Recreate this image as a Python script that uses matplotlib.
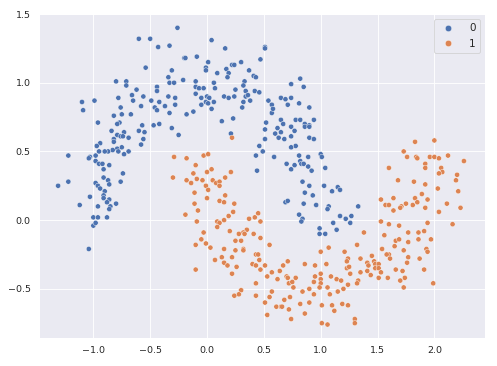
import pandas as pd
import seaborn as sns
import matplotlib.pyplot as plt

# class 0 (upper moon)
x0 = [-0.26, -0.60, -0.50, -0.43, -0.33, -0.20, -0.54, -0.31, -0.34, -0.33, -0.29, -0.21, -0.80, -0.71,
      -0.71, -0.62, -0.44, -0.44, -0.78, -0.66, -0.56, -0.34, -0.28, -1.10, -0.99, -0.65, -0.49, -0.42,
      -1.09, -0.76, -0.58, -0.46, -0.44, -0.37, -0.28, -0.33, -0.82, -0.75, -0.67, -0.96, -0.77, -0.79,
      -0.57, -0.47, -0.42,
      0.04, 0.16, 0.51, 0.51, -0.19, -0.09, 0.01, 0.22, 0.24, 0.30, 0.47, -0.01, -0.01, 0.17, 0.19, 0.09,
      0.37, 0.41, 0.43, 0.18, -0.10, -0.10, -0.07, -0.03, 0.06, 0.07, 0.33, 0.32, 0.25, 0.34, 0.42, 0.46,
      -0.10, -0.05, 0.00, 0.02, 0.15, 0.19, 0.24, 0.34, 0.36, -0.01, 0.01, 0.06, -0.05, 0.32, 0.38, 0.31,
      0.04, -0.12, -0.18, 0.13, 0.23, 0.52, 0.54, 0.57, 0.57, 0.58, 0.65, 0.69, 0.74, 0.71, 0.81, 0.90,
      0.74, 0.82, 0.85, 0.65, 0.67, 0.78, 0.82, 0.86, 0.94, 0.90,
      -0.31, -0.84, -0.73, -0.60, -0.55, -0.25, -0.79, -0.76, -0.74, -0.69, -0.82, -0.82, -0.56, -0.94,
      -0.97, -0.58, -0.75, -0.79, -0.83, -0.87, -0.90, -0.95, -0.78, -0.69, -0.73, -1.22, -1.03, -1.04,
      -0.98, -0.98, -0.95, -0.92, -0.91, -0.86, -0.74, -0.91, -0.87, -0.86, -0.76, -1.22, -1.31, -0.98,
      -0.96, -0.94, -0.90, -0.91, -1.03, -0.91, -0.86, -0.88, -0.80, -1.12, -0.96, -0.85, -0.86, -1.00,
      -0.96, -0.88, -1.00, -0.98, -1.04,
      0.21, 0.51, 0.60, 0.62, 0.65, 0.63, 0.68, 0.74, 0.77, 0.74, 0.86, 0.90, 0.90, 0.94, 0.51, 0.46,
      0.78, 0.74, 0.49, 0.43, 0.59, 0.81, 0.89, 1.00, 1.01, 0.82, 0.70, 0.77, 0.83, 0.85, 0.89, 0.92,
      0.74, 1.04, 0.44, 0.84, 0.90, 1.03, 1.10, 0.86, 0.93, 0.69, 0.71, 0.85, 0.96, 1.07, 1.06, 0.81,
      0.84, 0.83, 1.11, 0.99, 0.99, 1.04,
      1.15, 1.17, 1.33, 1.17, 1.22, 1.27, 1.26, 1.14]
y0 = [1.40, 1.32, 1.32, 1.26, 1.27, 1.18, 1.11, 1.09, 1.04, 1.00, 1.00, 1.02, 1.01, 1.01,
      0.98, 0.95, 0.97, 0.94, 0.89, 0.91, 0.90, 0.90, 0.89, 0.86, 0.87, 0.87, 0.87, 0.86,
      0.80, 0.82, 0.83, 0.82, 0.80, 0.83, 0.84, 0.78, 0.76, 0.77, 0.77, 0.71, 0.71, 0.70,
      0.69, 0.69, 0.70,
      1.31, 1.25, 1.26, 1.25, 1.18, 1.19, 1.15, 1.13, 1.13, 1.15, 1.17, 1.11, 1.09, 1.10, 1.07, 1.07,
      1.09, 1.05, 1.04, 1.04, 1.01, 0.97, 0.96, 0.96, 1.00, 0.96, 1.01, 0.98, 0.95, 0.94, 0.94, 0.93,
      0.92, 0.89, 0.90, 0.89, 0.90, 0.89, 0.90, 0.90, 0.91, 0.86, 0.85, 0.86, 0.84, 0.86, 0.87, 0.82,
      0.81, 0.79, 0.77, 0.72, 0.74, 0.71, 0.87, 0.84, 0.78, 0.81, 0.89, 0.88, 0.89, 0.84, 0.85, 0.82,
      0.99, 1.03, 0.97, 0.73, 0.70, 0.73, 0.73, 0.70, 0.73, 0.69,
      0.67, 0.65, 0.64, 0.65, 0.64, 0.62, 0.62, 0.61, 0.61, 0.60, 0.59, 0.57, 0.59, 0.56,
      0.54, 0.55, 0.53, 0.52, 0.51, 0.50, 0.50, 0.50, 0.50, 0.50, 0.48, 0.47, 0.46, 0.45,
      0.47, 0.43, 0.41, 0.41, 0.37, 0.40, 0.34, 0.31, 0.29, 0.26, 0.28, 0.28, 0.25, 0.27,
      0.25, 0.23, 0.21, 0.18, 0.17, 0.16, 0.15, 0.13, 0.12, 0.11, 0.10, 0.10, 0.08, 0.02,
      0.02, 0.02, -0.04, -0.02, -0.21,
      0.63, 0.66, 0.63, 0.67, 0.64, 0.60, 0.59, 0.68, 0.65, 0.61, 0.68, 0.68, 0.60, 0.59, 0.59, 0.54,
      0.54, 0.53, 0.50, 0.47, 0.46, 0.47, 0.46, 0.48, 0.46, 0.43, 0.41, 0.40, 0.41, 0.41, 0.39, 0.36,
      0.37, 0.38, 0.36, 0.28, 0.25, 0.25, 0.21, 0.20, 0.18, 0.13, 0.14, 0.12, 0.11, 0.10, 0.08, 0.04,
      0.01, -0.01, -0.02, -0.06, -0.10, -0.10,
      0.24, 0.22, 0.10, 0.03, 0.01, 0.03, -0.02, -0.07]

# class 1 (lower moon)
x1 = [-0.29, -0.30,
      0.22, -0.18, -0.03, 0.01, -0.10, -0.12, 0.00, 0.04, 0.21, -0.18, -0.09, -0.04, 0.05, 0.08, 0.11,
      0.16, -0.14, -0.01, 0.11, 0.01, -0.11, 0.16, 0.00, 0.11, 0.15, 0.24, -0.11, -0.08, 0.23, -0.19,
      0.45, 0.19, 0.42, 0.37, 0.15, 0.47, -0.09, 0.09, 0.11, 0.09, 0.35, 0.32, 0.20, -0.03, 0.28, 0.33,
      0.41,
      -0.05, -0.10, -0.01, 0.03, 0.25, 0.30, 0.47, 0.55, 0.15, 0.25, 0.32, 0.32, 0.07, 0.13, 0.22, 0.15,
      0.18, 0.26, 0.22, -0.10, 0.43, 0.45, 0.46, 0.40, 0.43, 0.51, 0.47, 0.53, 0.57, 0.64, 0.67, 0.71,
      0.62, 0.70, 0.71, 0.78, 0.72, 0.75, 0.76, 0.86, 0.95, 1.05, 1.00, 1.07, 1.00, 0.95, 0.94, 1.00,
      1.00, 0.99, 1.09, 1.06, 1.08, 0.90, 0.94, 0.84, 0.43, 0.57, 0.30, 0.28, 0.24, 0.43, 0.55, 0.73,
      0.68, 0.51, 0.90, 0.82, 0.61, 0.65, 0.66, 0.72, 1.01, 1.10, 1.12, 0.53, 0.86, 0.74, 1.01, 1.06,
      1.83, 2.00, 1.73, 1.76, 1.84, 1.85, 1.96, 2.00, 2.04, 2.12, 2.26, 1.60, 1.92, 1.92, 2.06, 2.07,
      2.04, 2.20, 2.19, 1.68, 1.82, 1.92, 2.03, 2.21, 1.89, 1.64, 1.83, 1.94, 1.53, 1.57, 1.60, 1.71,
      1.75, 1.81, 1.85, 1.70, 1.64, 1.92, 2.11, 2.23, 2.04, 1.53, 1.60, 1.69, 1.94, 1.91, 1.77, 1.86,
      2.16, 1.38, 1.56,
      1.66, 1.69, 1.86, 1.97, 1.77, 1.32, 1.65, 1.54, 1.73, 1.93, 1.94, 1.21, 1.60, 1.58, 1.61, 1.77,
      1.87, 1.24, 1.23, 1.35, 1.45, 1.41, 1.47, 1.76, 1.42, 1.48, 1.51, 1.23, 1.25, 1.48, 1.51, 1.41,
      1.66, 1.72, 1.91, 1.35, 1.26, 1.53, 1.44, 1.51, 1.59, 1.74, 1.70, 1.14, 1.18, 1.33, 1.32, 1.24,
      1.73, 1.99, 1.20, 1.15, 1.19, 1.24, 1.30, 1.30]
y1 = [0.46, 0.31,
      0.60, 0.45, 0.47, 0.48, 0.40, 0.34, 0.35, 0.37, 0.35, 0.29, 0.30, 0.29, 0.29, 0.27, 0.28,
      0.31, 0.27, 0.25, 0.25, 0.22, 0.20, 0.18, 0.16, 0.14, 0.13, 0.12, 0.12, 0.07, 0.06, 0.04,
      0.05, 0.03, 0.02, 0.01, 0.00, -0.01, -0.01, -0.01, -0.02, -0.05, -0.07, -0.09, -0.08, -0.09, -0.10, -0.10,
      -0.10,
      -0.14, -0.18, -0.17, -0.20, -0.15, -0.15, -0.13, -0.18, -0.21, -0.22, -0.21, -0.22, -0.29, -0.27, -0.27, -0.31,
      -0.33, -0.34, -0.39, -0.36, -0.25, -0.25, -0.29, -0.32, -0.33, -0.33, -0.36, -0.41, -0.38, -0.37, -0.33, -0.30,
      -0.43, -0.41, -0.42, -0.42, -0.46, -0.45, -0.49, -0.32, -0.33, -0.32, -0.23, -0.20, -0.39, -0.41, -0.45, -0.43,
      -0.46, -0.49, -0.41, -0.49, -0.54, -0.50, -0.54, -0.52, -0.46, -0.52, -0.51, -0.54, -0.55, -0.55, -0.56, -0.56,
      -0.58, -0.60, -0.60, -0.61, -0.63, -0.63, -0.63, -0.65, -0.62, -0.62, -0.66, -0.69, -0.68, -0.72, -0.75, -0.76,
      0.57, 0.58, 0.50, 0.46, 0.46, 0.45, 0.46, 0.46, 0.45, 0.47, 0.43, 0.38, 0.41, 0.38, 0.38, 0.35,
      0.34, 0.33, 0.29, 0.29, 0.28, 0.26, 0.23, 0.21, 0.19, 0.16, 0.16, 0.15, 0.15, 0.11, 0.11, 0.10,
      0.12, 0.11, 0.13, 0.09, 0.07, 0.09, 0.12, 0.09, 0.06, -0.01, -0.03, -0.04, -0.02, -0.08, -0.09, -0.09,
      -0.03, -0.09, -0.11,
      -0.15, -0.14, -0.14, -0.14, -0.16, -0.18, -0.19, -0.21, -0.22, -0.21, -0.23, -0.23, -0.25, -0.25, -0.28, -0.27,
      -0.28, -0.28, -0.30, -0.28, -0.26, -0.31, -0.30, -0.31, -0.33, -0.32, -0.32, -0.35, -0.34, -0.35, -0.35, -0.37,
      -0.36, -0.37, -0.36, -0.38, -0.39, -0.38, -0.40, -0.42, -0.42, -0.42, -0.44, -0.43, -0.44, -0.44, -0.46, -0.47,
      -0.49, -0.46, -0.50, -0.52, -0.61, -0.62, -0.72, -0.75]

df = pd.DataFrame({
    'x': x0 + x1,
    'y': y0 + y1,
    'label': ['0'] * len(x0) + ['1'] * len(x1),
})

sns.set_theme()
fig = plt.figure(figsize=(8, 5.892), dpi=62.125)
ax = fig.add_axes([0.0785, 0.0765, 0.8975, 0.885])
sns.scatterplot(data=df, x='x', y='y', hue='label', hue_order=['0', '1'], ax=ax)
ax.set_xlim(-1.478, 2.446)
ax.set_ylim(-0.858, 1.5)
ax.set_xlabel('')
ax.set_ylabel('')
ax.legend(loc='upper right', markerscale=1.25, fontsize=12, handletextpad=1.0)
fig.savefig('out.png', dpi=62.125)
